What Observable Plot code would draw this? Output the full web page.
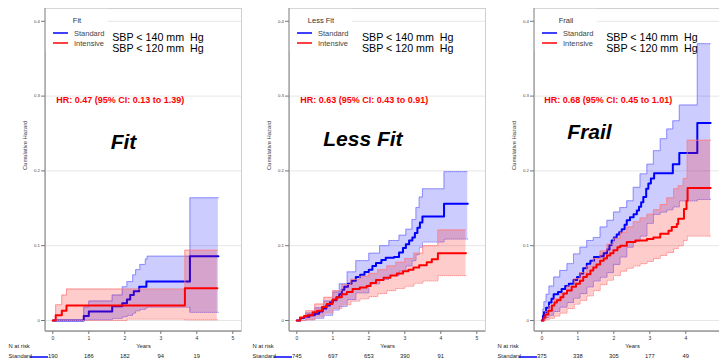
<!DOCTYPE html>
<html><head><meta charset="utf-8">
<script src="https://cdn.jsdelivr.net/npm/d3@7"></script>
<script src="https://cdn.jsdelivr.net/npm/@observablehq/plot@0.6"></script>
<style>
body{margin:0;background:#fff;}
#wrap{position:relative;width:719px;height:360px;overflow:hidden;background:#fff;}
.panel{position:absolute;top:0;}
</style></head><body><div id="wrap"></div>
<script>
const FONT = "'Liberation Sans', Arial, Helvetica, sans-serif";
const yearTicks = [0,1,2,3,4,5];
const hazardTicks = [0,0.1,0.2,0.3,0.4];
const atRiskYears = [0,1,2,3,4];
const groupNames = ["Fit","Less Fit","Frail"];
const seriesNames = ["Standard","Intensive"];
const targetLabels = ["SBP < 140 mm\u00a0 Hg","SBP < 120 mm\u00a0 Hg"];
const hrLabels = ["HR: 0.47 (95% CI: 0.13 to 1.39)","HR: 0.63 (95% CI: 0.43 to 0.91)","HR: 0.68 (95% CI: 0.45 to 1.01)"];
const fitAtRisk = [190,186,182,94,19];
const lessFitAtRisk = [745,697,653,390,91];
const frailAtRisk = [375,338,305,177,49];

// [years, cumulative hazard]
const fitStandard = [[0,0],[0.86,0.006],[1.0,0.012],[1.65,0.019],[1.93,0.023],[2.06,0.028],[2.15,0.034],[2.25,0.039],[2.4,0.045],[2.6,0.052],[3.81,0.086],[4.6,0.086]];
// [years, lower, upper]
const fitStandardCI = [[0,0,0],[0.86,0.0005,0.018],[1.0,0.001,0.026],[1.65,0.003,0.034],[1.93,0.005,0.045],[2.06,0.007,0.052],[2.22,0.010,0.061],[2.3,0.013,0.068],[2.42,0.015,0.075],[2.57,0.017,0.082],[2.62,0.018,0.086],[3.81,0.011,0.164],[4.6,0.011,0.164]];
const fitIntensive = [[0,0],[0.08,0.007],[0.25,0.013],[0.38,0.020],[3.67,0.043],[4.57,0.043]];
const fitIntensiveCI = [[0,0,0],[0.08,0,0.021],[0.25,0,0.034],[0.38,0,0.042],[2.06,0.002,0.042],[3.67,0.001,0.094],[4.57,0.001,0.094]];

const lessFitStandard = [[0,0],[0.1,0.003],[0.2,0.005],[0.35,0.007],[0.5,0.009],[0.62,0.012],[0.72,0.016],[0.82,0.02],[0.92,0.024],[1.0,0.027],[1.1,0.031],[1.18,0.035],[1.25,0.041],[1.32,0.045],[1.42,0.049],[1.52,0.053],[1.64,0.058],[1.76,0.061],[1.88,0.065],[2.0,0.068],[2.1,0.073],[2.2,0.077],[2.35,0.081],[2.47,0.084],[2.7,0.085],[2.84,0.091],[2.95,0.097],[3.03,0.102],[3.12,0.107],[3.21,0.111],[3.28,0.117],[3.35,0.124],[3.42,0.131],[3.49,0.139],[4.09,0.156],[4.75,0.156]];
const lessFitStandardCI = [[0,0,0],[0.25,0.001,0.01],[0.5,0.003,0.017],[0.75,0.007,0.026],[1.0,0.014,0.038],[1.18,0.019,0.049],[1.4,0.028,0.065],[1.64,0.037,0.08],[2.0,0.049,0.09],[2.3,0.055,0.1],[2.56,0.06,0.107],[2.84,0.066,0.114],[3.03,0.073,0.122],[3.2,0.08,0.135],[3.31,0.088,0.151],[3.4,0.098,0.165],[3.49,0.105,0.176],[4.09,0.109,0.199],[4.75,0.109,0.199]];
const lessFitIntensive = [[0,0],[0.09,0.004],[0.2,0.006],[0.3,0.007],[0.44,0.011],[0.56,0.013],[0.7,0.018],[0.83,0.022],[0.99,0.028],[1.11,0.031],[1.25,0.035],[1.39,0.038],[1.55,0.042],[1.75,0.044],[1.94,0.046],[2.05,0.05],[2.2,0.054],[2.41,0.057],[2.6,0.06],[2.78,0.063],[2.95,0.066],[3.1,0.068],[3.24,0.071],[3.4,0.074],[3.61,0.078],[3.75,0.082],[3.92,0.09],[4.7,0.09]];
const lessFitIntensiveCI = [[0,0,0],[0.25,0.001,0.013],[0.5,0.005,0.022],[0.75,0.01,0.031],[1.0,0.016,0.04],[1.25,0.021,0.048],[1.5,0.026,0.055],[1.75,0.029,0.059],[2.0,0.032,0.063],[2.25,0.036,0.068],[2.5,0.04,0.073],[2.75,0.043,0.078],[3.0,0.046,0.083],[3.25,0.05,0.09],[3.5,0.053,0.1],[3.92,0.06,0.121],[4.7,0.06,0.121]];

const frailStandard = [[0,0],[0.03,0.006],[0.06,0.011],[0.12,0.017],[0.2,0.024],[0.27,0.029],[0.33,0.035],[0.45,0.038],[0.55,0.042],[0.65,0.046],[0.75,0.049],[0.88,0.054],[0.98,0.058],[1.06,0.063],[1.15,0.07],[1.25,0.076],[1.35,0.08],[1.45,0.085],[1.62,0.086],[1.72,0.09],[1.81,0.095],[1.88,0.101],[1.94,0.107],[2.0,0.111],[2.08,0.115],[2.15,0.118],[2.22,0.122],[2.3,0.128],[2.36,0.134],[2.45,0.138],[2.55,0.142],[2.64,0.147],[2.7,0.152],[2.76,0.158],[2.82,0.165],[2.9,0.176],[2.96,0.183],[3.03,0.19],[3.12,0.197],[3.64,0.209],[3.82,0.224],[4.32,0.264],[4.69,0.264]];
const frailStandardCI = [[0,0,0],[0.03,0.001,0.015],[0.06,0.002,0.025],[0.12,0.004,0.035],[0.2,0.007,0.046],[0.33,0.012,0.058],[0.5,0.018,0.067],[0.7,0.024,0.076],[0.88,0.03,0.089],[1.06,0.036,0.098],[1.25,0.045,0.107],[1.43,0.053,0.111],[1.62,0.058,0.125],[1.81,0.064,0.134],[1.99,0.075,0.145],[2.17,0.085,0.151],[2.36,0.098,0.16],[2.54,0.106,0.178],[2.73,0.113,0.196],[2.92,0.13,0.209],[3.1,0.142,0.227],[3.29,0.145,0.243],[3.47,0.148,0.256],[3.64,0.152,0.267],[3.82,0.16,0.288],[4.32,0.162,0.37],[4.69,0.162,0.37]];
const frailIntensive = [[0,0],[0.05,0.004],[0.1,0.008],[0.18,0.013],[0.28,0.02],[0.35,0.024],[0.42,0.027],[0.52,0.031],[0.6,0.036],[0.7,0.04],[0.83,0.045],[0.95,0.049],[1.06,0.053],[1.15,0.058],[1.25,0.062],[1.35,0.067],[1.43,0.071],[1.52,0.075],[1.62,0.08],[1.72,0.083],[1.81,0.087],[1.9,0.09],[1.99,0.094],[2.1,0.098],[2.18,0.1],[2.36,0.105],[2.6,0.107],[2.92,0.109],[3.1,0.111],[3.29,0.116],[3.52,0.12],[3.61,0.125],[3.75,0.129],[3.79,0.136],[3.95,0.149],[4.02,0.16],[4.05,0.177],[4.69,0.177]];
const frailIntensiveCI = [[0,0,0],[0.1,0.001,0.012],[0.2,0.003,0.02],[0.35,0.006,0.029],[0.5,0.01,0.036],[0.7,0.016,0.046],[0.9,0.022,0.056],[1.06,0.027,0.064],[1.25,0.033,0.073],[1.43,0.04,0.083],[1.62,0.048,0.093],[1.81,0.054,0.102],[1.99,0.06,0.11],[2.18,0.066,0.118],[2.36,0.07,0.125],[2.54,0.073,0.132],[2.73,0.076,0.137],[2.92,0.079,0.142],[3.1,0.083,0.148],[3.29,0.087,0.155],[3.47,0.091,0.164],[3.66,0.096,0.176],[3.79,0.1,0.18],[3.93,0.107,0.19],[4.04,0.113,0.241],[4.69,0.113,0.241]];

const BLUE = "#0000ff", RED = "#ff0000";

const panels = [
  {left: 0, name: groupNames[0], hr: hrLabels[0], std: fitStandard, stdCI: fitStandardCI, int: fitIntensive, intCI: fitIntensiveCI, risk: fitAtRisk, ticks: yearTicks, titleDx: 78, titleDy: 126, sbpDx: 66.7, hrDx: 10.7},
  {left: 244.3, name: groupNames[1], hr: hrLabels[1], std: lessFitStandard, stdCI: lessFitStandardCI, int: lessFitIntensive, intCI: lessFitIntensiveCI, risk: lessFitAtRisk, ticks: yearTicks, titleDx: 73.4, titleDy: 122.5, sbpDx: 72.4, hrDx: 10.7},
  {left: 489, name: groupNames[2], hr: hrLabels[2], std: frailStandard, stdCI: frailStandardCI, int: frailIntensive, intCI: frailIntensiveCI, risk: frailAtRisk, ticks: yearTicks.slice(0, 5), titleDx: 55, titleDy: 116, sbpDx: 71.7, hrDx: 9.7}
];

function decor(p) {
  return (index, scales, values, dims) => {
    const L = dims.marginLeft, T = dims.marginTop;
    const B = dims.height - dims.marginBottom;
    const g = d3.create("svg:g").attr("font-family", FONT).attr("text-anchor", "start");
    g.append("line").attr("x1", L).attr("x2", L).attr("y1", T).attr("y2", B).attr("stroke", "#9a9a9a").attr("stroke-width", 1.3);
    g.append("line").attr("x1", L).attr("x2", dims.width - dims.marginRight).attr("y1", B).attr("y2", B).attr("stroke", "#9a9a9a").attr("stroke-width", 1.3);
    // legend box
    g.append("rect").attr("x", L + 0.8).attr("y", T + 0.8).attr("width", 62).attr("height", 42).attr("fill", "white");
    g.append("text").attr("x", L + 32).attr("y", T + 14.7).attr("text-anchor", "middle").attr("font-size", 7.5).attr("fill", "#333").text(p.name);
    [BLUE, RED].forEach((c, i) => {
      const yy = T + 25 + i * 10;
      g.append("line").attr("x1", L + 8).attr("x2", L + 23).attr("y1", yy).attr("y2", yy).attr("stroke", c).attr("stroke-width", 1.5);
      g.append("text").attr("x", L + 29).attr("y", yy + 3.2).attr("text-anchor", "start").attr("font-size", 7.5).attr("fill", "#444").text(seriesNames[i]);
    });
    // at-risk row key line
    g.append("line").attr("x1", L - 15).attr("x2", L + 3).attr("y1", B + 26).attr("y2", B + 26).attr("stroke", BLUE).attr("stroke-width", 1.5);
    return g.node();
  };
}

function makePanel(p) {
  const band = (ci, color, edge) => [
    Plot.areaY(ci, {x: d => d[0], y1: d => d[1], y2: d => d[2], curve: "step-after", fill: color, fillOpacity: 0.2}),
    Plot.line(ci, {x: d => d[0], y: d => d[2], curve: "step-after", stroke: edge, strokeWidth: 0.9, strokeDasharray: "1,1"}),
    Plot.line(ci, {x: d => d[0], y: d => d[1], curve: "step-after", stroke: edge, strokeWidth: 0.9, strokeDasharray: "1,1"})
  ];
  return Plot.plot({
    width: 244, height: 360,
    marginLeft: 45, marginRight: 3, marginTop: 8, marginBottom: 29,
    x: {domain: [-0.203, 5.242], axis: null},
    y: {domain: [-0.0147, 0.4171], axis: null},
    style: {fontFamily: FONT, background: "transparent", overflow: "visible"},
    marks: [
      Plot.gridY(hazardTicks, {stroke: "#e6e6e6", strokeOpacity: 1}),
      Plot.frame({stroke: "#cfcfcf"}),
      decor(p),
      Plot.axisY(hazardTicks, {tickSize: 4, tickPadding: 1.5, fontSize: 4.3, stroke: "#777", fill: "#444", label: null, tickFormat: d => d === 0 ? "0" : d.toFixed(1)}),
      Plot.axisX(p.ticks, {tickSize: 3, tickPadding: 1.5, fontSize: 5, stroke: "#777", fill: "#333", label: null}),
      Plot.text(["Cumulative Hazard"], {frameAnchor: "left", rotate: -90, dx: -20, fontSize: 5.8, fill: "#444"}),
      Plot.text(["Years"], {frameAnchor: "bottom", dy: 16, fontSize: 5.8, fill: "#222"}),
      Plot.text(["N at risk"], {frameAnchor: "bottom-left", dx: -37, dy: 16, textAnchor: "start", fontSize: 5.8, fill: "#222"}),
      Plot.text([seriesNames[0]], {frameAnchor: "bottom-left", dx: -37, dy: 26, textAnchor: "start", fontSize: 5.8, fill: "#222"}),
      Plot.text(p.risk, {x: (d, i) => atRiskYears[i], text: d => String(d), frameAnchor: "bottom", dy: 26, fontSize: 5.8, fill: "#222"}),
      ...band(p.stdCI, BLUE, "#7b7bff"),
      Plot.line(p.std, {x: d => d[0], y: d => d[1], curve: "step-after", stroke: BLUE, strokeWidth: 2}),
      ...band(p.intCI, RED, "#ff8080"),
      Plot.line(p.int, {x: d => d[0], y: d => d[1], curve: "step-after", stroke: RED, strokeWidth: 2}),
      Plot.text([targetLabels.join("\n")], {frameAnchor: "top-left", dx: p.sbpDx, dy: 24.1, lineAnchor: "top", textAnchor: "start", lineHeight: 1.08, fontSize: 10.7, fill: "#000"}),
      Plot.text([p.hr], {frameAnchor: "top-left", dx: p.hrDx, dy: 88, textAnchor: "start", fontSize: 9, fontWeight: "bold", fill: RED}),
      Plot.text([p.name], {frameAnchor: "top-left", dx: p.titleDx, dy: p.titleDy, textAnchor: "middle", fontSize: 21, fontWeight: "bold", fontStyle: "italic", fill: "#000"})
    ]
  });
}

const wrap = document.getElementById("wrap");
panels.forEach(p => {
  const el = makePanel(p);
  el.classList.add("panel");
  el.style.left = p.left + "px";
  wrap.appendChild(el);
});
</script>
</body></html>
